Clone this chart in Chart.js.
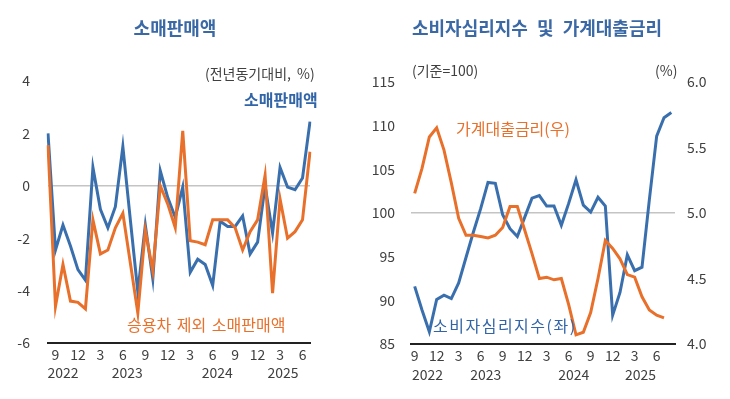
<!DOCTYPE html>
<html>
<head>
<meta charset="utf-8">
<script src="https://cdn.jsdelivr.net/npm/chart.js@4.4.1/dist/chart.umd.min.js"></script>
<style>
  body { margin: 0; width: 730px; height: 399px; background: #fff; position: relative; overflow: hidden;
         font-family: "Noto Sans CJK KR", sans-serif; }
  .box { position: absolute; top: 0; height: 399px; }
  #left { left: 0; width: 330px; }
  #right { left: 365px; width: 365px; }
  .t { position: absolute; white-space: nowrap; line-height: 1; transform: translateY(-50%); }
  .title { font-size: 18px; font-weight: bold; color: #3a69a6; transform: translate(-50%, -50%); }
  .unit { font-size: 14px; color: #404040; }
  .lab { font-size: 16px; }
</style>
</head>
<body>
<div class="box" id="left"><canvas id="c1"></canvas></div>
<div class="box" id="right"><canvas id="c2"></canvas></div>

<div class="t title" style="left:175px; top:27px">소매판매액</div>
<div class="t title" style="left:537px; top:27px; word-spacing:5px">소비자심리지수 및 가계대출금리</div>

<div class="t unit" style="left:205px; top:73px; word-spacing:3px">(전년동기대비, %)</div>
<div class="t lab" style="left:244px; top:99px; color:#3265a8; font-weight:bold">소매판매액</div>
<div class="t lab" style="left:127px; top:324px; color:#e8702a; word-spacing:2px">승용차 제외 소매판매액</div>

<div class="t unit" style="left:412px; top:70px">(기준=100)</div>
<div class="t unit" style="left:655px; top:70px">(%)</div>
<div class="t lab" style="left:456px; top:128px; color:#e8702a">가계대출금리(우)</div>
<div class="t lab" style="left:433px; top:325px; color:#3265a8; letter-spacing:1.5px">소비자심리지수(좌)</div>

<script>
// 소매판매액 (전년동기대비, %)
const retailMonths = ['2022-08','2022-09','2022-10','2022-11','2022-12',
  '2023-01','2023-02','2023-03','2023-04','2023-05','2023-06','2023-07','2023-08','2023-09','2023-10','2023-11','2023-12',
  '2024-01','2024-02','2024-03','2024-04','2024-05','2024-06','2024-07','2024-08','2024-09','2024-10','2024-11','2024-12',
  '2025-01','2025-02','2025-03','2025-04','2025-05','2025-06','2025-07'];
const retailSales = [2.0, -2.45, -1.5, -2.3, -3.2,
  -3.6, 0.7, -0.9, -1.6, -0.8, 1.5, -1.3, -4.05, -1.5, -3.55, 0.57, -0.45,
  -1.2, -0.05, -3.3, -2.8, -3.0, -3.8, -1.35, -1.55, -1.55, -1.15, -2.6, -2.15,
  0.0, -1.8, 0.7, -0.05, -0.15, 0.3, 2.45];
const retailExCars = [1.55, -4.6, -3.0, -4.4, -4.45,
  -4.7, -1.3, -2.6, -2.45, -1.6, -1.05, -2.95, -4.85, -1.7, -3.25, 0.0, -0.7,
  -1.6, 2.1, -2.1, -2.15, -2.25, -1.3, -1.3, -1.3, -1.6, -2.45, -1.75, -1.3,
  0.4, -4.1, -0.5, -2.0, -1.75, -1.3, 1.3];
const retailTicks = [-6, -4, -2, 0, 2, 4];

// 소비자심리지수 (기준=100), 가계대출금리 (%)
const csiMonths = ['2022-09','2022-10','2022-11','2022-12',
  '2023-01','2023-02','2023-03','2023-04','2023-05','2023-06','2023-07','2023-08','2023-09','2023-10','2023-11','2023-12',
  '2024-01','2024-02','2024-03','2024-04','2024-05','2024-06','2024-07','2024-08','2024-09','2024-10','2024-11','2024-12',
  '2025-01','2025-02','2025-03','2025-04','2025-05','2025-06','2025-07','2025-08'];
const csi = [91.6, 88.9, 86.4, 90.1,
  90.6, 90.2, 92.0, 94.9, 97.8, 100.5, 103.5, 103.4, 99.8, 98.2, 97.3, 99.5,
  101.7, 102.0, 100.8, 100.8, 98.6, 101.1, 103.8, 100.9, 100.1, 101.8, 100.8, 88.3,
  90.9, 95.2, 93.4, 93.8, 101.5, 108.8, 110.9, 111.5];
const loanRate = [5.15, 5.34, 5.58, 5.65,
  5.48, 5.23, 4.96, 4.83, 4.83, 4.82, 4.81, 4.83, 4.89, 5.05, 5.05, 4.87,
  4.69, 4.50, 4.51, 4.49, 4.50, 4.30, 4.07, 4.09, 4.24, 4.50, 4.79, 4.73,
  4.65, 4.53, 4.51, 4.36, 4.26, 4.22, 4.20, null];
const csiTicks = [85, 90, 95, 100, 105, 110, 115];
const rateTicks = [4.0, 4.5, 5.0, 5.5, 6.0];

const yearLabels = ['2022', '2023', '2024', '2025'];

const BLUE = '#3a6fae'
const ORANGE = '#e8702a'
const TEXT = '#404040'
const FONT = "'Noto Sans CJK KR', sans-serif"

// 연도 라벨: x 축 아래 두번째 줄
const yearPlugin = {
  id: 'yearRow',
  afterDraw(chart, args, opts) {
    const x = chart.scales.x
    const ctx = chart.ctx
    ctx.save()
    ctx.font = '14px ' + FONT
    ctx.fillStyle = TEXT
    ctx.textAlign = 'center'
    ctx.textBaseline = 'middle'
    for (let i = 0; i < yearLabels.length; i++) {
      ctx.fillText(yearLabels[i], x.getPixelForValue(opts.at[i]), chart.chartArea.bottom + opts.dy)
    }
    ctx.restore()
  }
}

function monthTick(value) {
  const m = +this.getLabelForValue(value).slice(5)
  return m % 3 === 0 ? String(m) : ''
}

function xAxis(offset, h) {
  return {
    offset: offset,
    grid: { display: false },
    border: { display: true, color: '#222', width: 2 },
    ticks: { autoSkip: false, maxRotation: 0, padding: -5, color: TEXT, font: { size: 14, family: FONT }, callback: monthTick },
    afterFit: s => { s.height = h }
  }
}

function yAxis(pos, min, max, ticks, w, pad, zero, fmt) {
  return {
    position: pos,
    min: min,
    max: max,
    afterBuildTicks: s => { s.ticks = ticks.map(v => ({ value: v })) },
    grid: {
      display: zero !== null,
      drawTicks: false,
      lineWidth: 1.5,
      color: c => c.tick && c.tick.value === zero ? '#c4c4c4' : 'rgba(0,0,0,0)'
    },
    border: { display: false },
    ticks: { padding: pad, color: TEXT, font: { size: 14, family: FONT }, callback: fmt },
    afterFit: s => { s.width = w }
  }
}

const line = (data, color, axis) => ({
  data: data, borderColor: color, backgroundColor: color, borderWidth: 3,
  pointRadius: 0, tension: 0, yAxisID: axis, spanGaps: false
})

new Chart(document.getElementById('c1'), {
  type: 'line',
  data: {
    labels: retailMonths,
    datasets: [
      line(retailExCars, ORANGE, 'y'),
      line(retailSales, BLUE, 'y')
    ]
  },
  options: {
    responsive: true,
    maintainAspectRatio: false,
    animation: false,
    layout: { padding: { top: 81, right: 20, left: 0, bottom: 0 } },
    scales: {
      x: xAxis(false, 56),
      y: yAxis('left', -6, 4, retailTicks, 48, 18, 0, v => String(v))
    },
    plugins: {
      legend: { display: false },
      tooltip: { enabled: false },
      yearRow: { at: [2, 10.6, 22.6, 31.4], dy: 30 }
    }
  },
  plugins: [yearPlugin]
});

new Chart(document.getElementById('c2'), {
  type: 'line',
  data: {
    labels: csiMonths,
    datasets: [
      line(loanRate, ORANGE, 'y1'),
      line(csi, BLUE, 'y')
    ]
  },
  options: {
    responsive: true,
    maintainAspectRatio: false,
    animation: false,
    layout: { padding: { top: 82, right: 0, left: 0, bottom: 0 } },
    scales: {
      x: xAxis(true, 55),
      y: yAxis('left', 85, 115, csiTicks, 46, 16, 100, v => String(v)),
      y1: yAxis('right', 4, 6, rateTicks, 55, 12, null, v => v.toFixed(1))
    },
    plugins: {
      legend: { display: false },
      tooltip: { enabled: false },
      yearRow: { at: [1.75, 9.7, 21.7, 30.8], dy: 31 }
    }
  },
  plugins: [yearPlugin]
});
</script>
</body>
</html>
